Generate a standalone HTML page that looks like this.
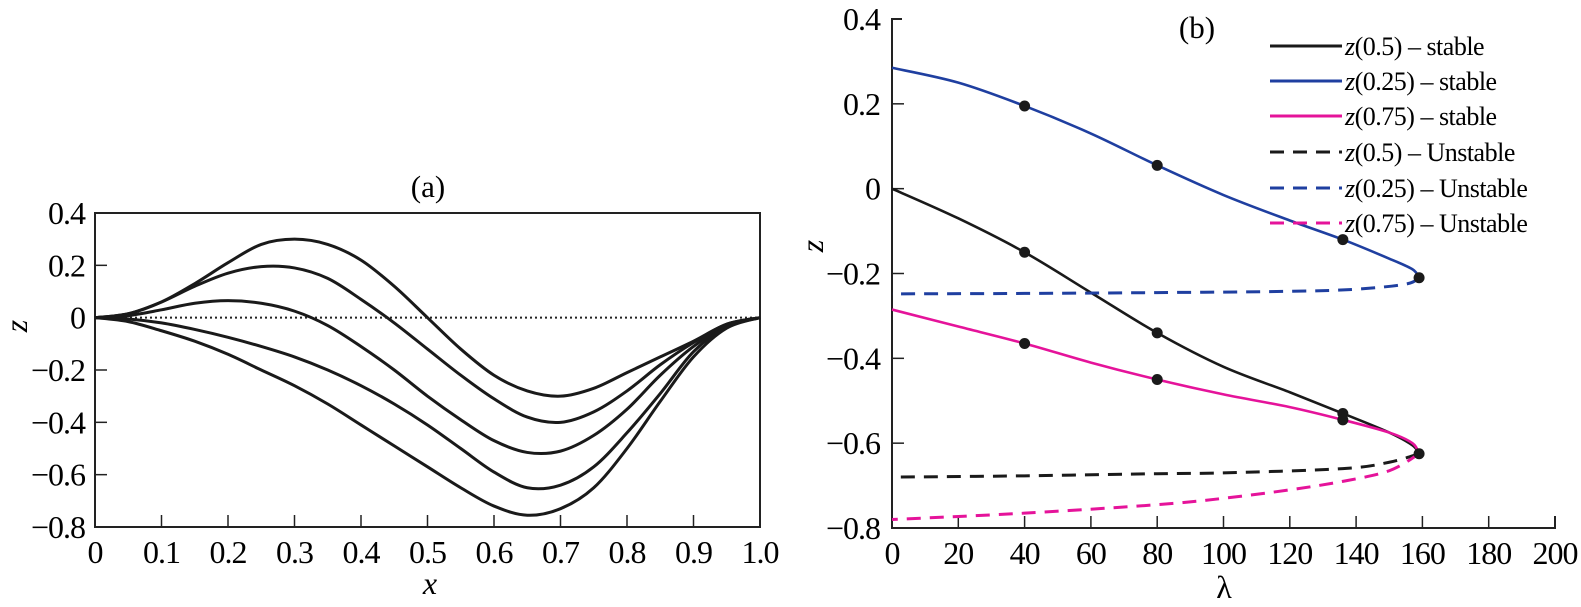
<!DOCTYPE html>
<html><head><meta charset="utf-8"><style>
body{margin:0;background:#fff}
svg{display:block;font-family:"Liberation Serif",serif}
</style></head><body>
<svg id="fig" width="1581" height="607" viewBox="0 0 1581 607" xmlns="http://www.w3.org/2000/svg">
<g id="pa"></g>
<g id="pb"></g>
</svg>
<script>
// Panel (a) data
const xsA = [0,0.05,0.1,0.15,0.2,0.25,0.3,0.35,0.4,0.45,0.5,0.55,0.6,0.65,0.7,0.75,0.8,0.85,0.9,0.95,1];
const curveA1 = [0,0.015,0.06,0.13,0.21,0.28,0.30,0.28,0.22,0.12,0.0,-0.12,-0.22,-0.28,-0.30,-0.27,-0.21,-0.15,-0.09,-0.025,0];
const curveA2 = [0,0.015,0.06,0.12,0.17,0.195,0.19,0.15,0.07,-0.02,-0.12,-0.22,-0.31,-0.38,-0.40,-0.36,-0.28,-0.18,-0.095,-0.025,0];
const curveA3 = [0,0.008,0.03,0.055,0.065,0.055,0.025,-0.03,-0.11,-0.20,-0.30,-0.39,-0.47,-0.515,-0.51,-0.45,-0.35,-0.22,-0.11,-0.03,0];
const curveA4 = [0,-0.005,-0.02,-0.045,-0.075,-0.11,-0.15,-0.20,-0.26,-0.33,-0.41,-0.50,-0.59,-0.65,-0.64,-0.57,-0.44,-0.29,-0.13,-0.035,0];
const curveA5 = [0,-0.015,-0.05,-0.09,-0.14,-0.20,-0.26,-0.33,-0.41,-0.49,-0.57,-0.65,-0.72,-0.755,-0.73,-0.65,-0.50,-0.32,-0.15,-0.04,0];
const xTicksA = ["0","0.1","0.2","0.3","0.4","0.5","0.6","0.7","0.8","0.9","1.0"];
const yTicksA = [0.4,0.2,0,-0.2,-0.4,-0.6,-0.8];

// Panel (b) data
const blueStableL = [0,20,40,60,80,100,120,136,150,157,159];
const blueStableZ = [0.285,0.25,0.195,0.13,0.055,-0.015,-0.075,-0.12,-0.165,-0.19,-0.21];
const blueUnstL = [159,155,140,120,80,40,0];
const blueUnstZ = [-0.21,-0.225,-0.237,-0.242,-0.245,-0.247,-0.248];
const blackStableL = [0,20,40,60,80,100,120,136,150,157,159];
const blackStableZ = [0,-0.07,-0.15,-0.245,-0.34,-0.42,-0.48,-0.53,-0.575,-0.605,-0.625];
const blackUnstL = [159,150,136,100,80,40,0];
const blackUnstZ = [-0.625,-0.645,-0.66,-0.67,-0.672,-0.677,-0.68];
const pinkStableL = [0,20,40,60,80,100,120,136,150,157,159];
const pinkStableZ = [-0.285,-0.325,-0.365,-0.41,-0.45,-0.485,-0.515,-0.545,-0.575,-0.60,-0.625];
const pinkUnstL = [159,150,136,120,100,80,40,0];
const pinkUnstZ = [-0.625,-0.665,-0.69,-0.71,-0.73,-0.745,-0.765,-0.78];
const dotL = [40,80,136,159,40,80,136,40,80,136,159];
const dotZ = [0.195,0.055,-0.12,-0.21,-0.15,-0.34,-0.53,-0.365,-0.45,-0.545,-0.625];
const xTicksB = [0,20,40,60,80,100,120,140,160,180,200];
const yTicksB = [0.4,0.2,0,-0.2,-0.4,-0.6,-0.8];
const legendLabels = ["(0.5) \u2013 stable","(0.25) \u2013 stable","(0.75) \u2013 stable","(0.5) \u2013 Unstable","(0.25) \u2013 Unstable","(0.75) \u2013 Unstable"];

const NS="http://www.w3.org/2000/svg";
function mk(parent,tag,attrs,text){const e=document.createElementNS(NS,tag);for(const k in attrs)e.setAttribute(k,attrs[k]);if(text!==undefined)e.textContent=text;parent.appendChild(e);return e;}
function smooth(pts){let d="M"+pts[0][0]+","+pts[0][1];for(let i=0;i<pts.length-1;i++){const p0=pts[i-1]||pts[i],p1=pts[i],p2=pts[i+1],p3=pts[i+2]||p2;d+=" C"+(p1[0]+(p2[0]-p0[0])/6)+","+(p1[1]+(p2[1]-p0[1])/6)+" "+(p2[0]-(p3[0]-p1[0])/6)+","+(p2[1]-(p3[1]-p1[1])/6)+" "+p2[0]+","+p2[1];}return d;}
const TF=32;

// ---- Panel A
const pa=document.getElementById('pa');
const axL=95,axR=760,ayT=213,ayB=527;
const sxA=v=>axL+(axR-axL)*v, syA=v=>ayT+(0.4-v)/1.2*(ayB-ayT);
let e;
e=mk(pa,'rect',{x:axL,y:ayT,width:axR-axL,height:ayB-ayT,fill:'none',stroke:'#222','stroke-width':2});

e=mk(pa,'line',{x1:axL,x2:axR,y1:syA(0),y2:syA(0),stroke:'#222','stroke-width':2,'stroke-dasharray':'2,3'});

xTicksA.forEach((t,i)=>{const x=sxA(i/10);
 if(i>0&&i<10){e=mk(pa,'line',{x1:x,x2:x,y1:ayB,y2:ayB-12,stroke:'#222','stroke-width':1.5});}
 e=mk(pa,'text',{x:x,y:563,'font-size':TF,'letter-spacing':-1,'text-anchor':'middle'},t);});
yTicksA.forEach(v=>{const y=syA(v);
 e=mk(pa,'line',{x1:axL,x2:axL+12,y1:y,y2:y,stroke:'#222','stroke-width':1.5});
 const s=v===0?"0":(v<0?"\u2212":"")+Math.abs(v).toFixed(1);
 e=mk(pa,'text',{x:85,y:y+11,'font-size':TF,'letter-spacing':-1,'text-anchor':'end'},s);});
[curveA1,curveA2,curveA3,curveA4,curveA5].forEach((c,k)=>{
 e=mk(pa,'path',{d:smooth(xsA.map((x,i)=>[sxA(x),syA(c[i])])),fill:'none',stroke:'#1a1a1a','stroke-width':3});
 });
e=mk(pa,'text',{x:428,y:197,'font-size':31,'text-anchor':'middle'},"(a)");
e=mk(pa,'text',{x:430,y:594,'font-size':32,'font-style':'italic','text-anchor':'middle'},"x");
e=mk(pa,'text',{x:0,y:0,'font-size':32,'font-style':'italic','text-anchor':'middle',transform:'translate(27,326) rotate(-90)'},"z");

// ---- Panel B
const pb=document.getElementById('pb');
const bxL=892,bxR=1555,byT=19,byB=528;
const sxB=v=>bxL+(bxR-bxL)*v/200, syB=v=>byT+(0.4-v)/1.2*(byB-byT);
e=mk(pb,'path',{d:`M${bxL+10},${byT} H${bxL} V${byB} H${bxR} V${byB-12}`,fill:'none',stroke:'#222','stroke-width':2});

xTicksB.forEach(v=>{const x=sxB(v);
 if(v>0&&v<200){e=mk(pb,'line',{x1:x,x2:x,y1:byB,y2:byB-12,stroke:'#222','stroke-width':1.5});}
 e=mk(pb,'text',{x:x,y:564,'font-size':TF,'letter-spacing':-1,'text-anchor':'middle'},String(v));});
yTicksB.forEach(v=>{const y=syB(v);
 if(v>-0.8&&v<0.4){e=mk(pb,'line',{x1:bxL,x2:bxL+12,y1:y,y2:y,stroke:'#222','stroke-width':1.5});}
 const s=v===0?"0":(v<0?"\u2212":"")+Math.abs(v).toFixed(1);
 e=mk(pb,'text',{x:880,y:y+11,'font-size':TF,'letter-spacing':-1,'text-anchor':'end'},s);});
const series=[
 [blackStableL,blackStableZ,'#1a1a1a',null,'z05-stable'],
 [blueStableL,blueStableZ,'#1f3fa0',null,'z025-stable'],
 [pinkStableL,pinkStableZ,'#e5139a',null,'z075-stable'],
 [blackUnstL,blackUnstZ,'#1a1a1a','14,9','z05-unstable'],
 [blueUnstL,blueUnstZ,'#1f3fa0','14,9','z025-unstable'],
 [pinkUnstL,pinkUnstZ,'#e5139a','14,9','z075-unstable']];
series.forEach(s=>{const a={d:smooth(s[0].map((l,i)=>[sxB(l),syB(s[1][i])])),fill:'none',stroke:s[2],'stroke-width':s[3]?3:2.6};if(s[3])a['stroke-dasharray']=s[3];
 e=mk(pb,'path',a);});
dotL.forEach((l,i)=>{e=mk(pb,'circle',{cx:sxB(l),cy:syB(dotZ[i]),r:5.5,fill:'#1a1a1a'});});
const legY=[46,81,116,152,188,223];
series.forEach((s,i)=>{const y=legY[i];
 const a={x1:1270,x2:1342,y1:y,y2:y,stroke:s[2],'stroke-width':3};if(s[3])a['stroke-dasharray']='14,9';
 e=mk(pb,'line',a);
 const t=mk(pb,'text',{x:1345,y:y+9,'font-size':26,'letter-spacing':-0.5});
 
 mk(t,'tspan',{'font-style':'italic'},'z');mk(t,'tspan',{},legendLabels[i]);});
e=mk(pb,'text',{x:1197,y:38,'font-size':31,'text-anchor':'middle'},"(b)");
e=mk(pb,'text',{x:1224,y:598,'font-size':32,'text-anchor':'middle'},"\u03bb");
e=mk(pb,'text',{x:0,y:0,'font-size':32,'font-style':'italic','text-anchor':'middle',transform:'translate(823,246) rotate(-90)'},"z");
</script>
</body></html>
